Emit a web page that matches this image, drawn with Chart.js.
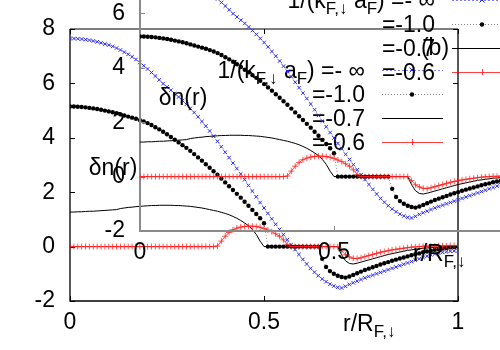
<!DOCTYPE html>
<html><head><meta charset="utf-8">
<script src="https://cdn.jsdelivr.net/npm/chart.js@4"></script>
<style>
html,body{margin:0;padding:0;background:#fff;}
#wrap{position:relative;width:500px;height:350px;overflow:hidden;background:#fff;}
#main{position:absolute;left:0;top:0;}
#inset{position:absolute;left:70px;top:-70px;}
</style></head><body>
<div id="wrap"><canvas id="main" width="500" height="350"></canvas><canvas id="inset" width="500" height="350"></canvas></div>
<script>
// radius r / R_F,down
const rValues = [0,0.01,0.02,0.03,0.04,0.05,0.06,0.07,0.08,0.09,
0.10,0.11,0.12,0.13,0.14,0.15,0.16,0.17,0.18,0.19,
0.20,0.21,0.22,0.23,0.24,0.25,0.26,0.27,0.28,0.29,
0.30,0.31,0.32,0.33,0.34,0.35,0.36,0.37,0.38,0.39,
0.40,0.41,0.42,0.43,0.44,0.45,0.46,0.47,0.48,0.49,
0.50,0.51,0.52,0.53,0.54,0.55,0.56,0.57,0.58,0.59,
0.60,0.61,0.62,0.63,0.64,0.65,0.66,0.67,0.68,0.69,
0.70,0.71,0.72,0.73,0.74,0.75,0.76,0.77,0.78,0.79,
0.80,0.81,0.82,0.83,0.84,0.85,0.86,0.87,0.88,0.89,
0.90,0.91,0.92,0.93,0.94,0.95,0.96,0.97,0.98,0.99,1.00];

// 1/(kF a) = -infinity
const seriesInf = [7.65,7.65,7.64,7.63,7.61,7.59,7.56,7.53,7.49,7.45,
7.41,7.36,7.30,7.23,7.15,7.07,6.98,6.88,6.77,6.65,
6.53,6.40,6.27,6.13,5.99,5.87,5.75,5.63,5.50,5.37,
5.23,5.08,4.93,4.77,4.60,4.43,4.25,4.06,3.87,3.67,
3.47,3.27,3.07,2.87,2.67,2.46,2.25,2.04,1.83,1.62,
1.42,1.22,1.02,0.82,0.63,0.44,0.25,0.07,-0.11,-0.29,
-0.47,-0.64,-0.80,-0.94,-1.07,-1.19,-1.29,-1.38,-1.45,-1.50,
-1.52,-1.46,-1.39,-1.33,-1.27,-1.21,-1.15,-1.10,-1.05,-1.00,
-0.95,-0.90,-0.85,-0.80,-0.75,-0.70,-0.65,-0.60,-0.55,-0.50,
-0.45,-0.40,-0.35,-0.30,-0.27,-0.24,-0.21,-0.19,-0.17,-0.16,-0.15];

// 1/(kF a) = -1.0
const seriesM10 = [5.15,5.15,5.14,5.13,5.12,5.10,5.08,5.06,5.03,5.00,
4.97,4.94,4.90,4.86,4.82,4.78,4.74,4.70,4.65,4.60,
4.54,4.47,4.39,4.31,4.22,4.13,4.03,3.93,3.83,3.73,
3.63,3.52,3.40,3.28,3.16,3.03,2.90,2.77,2.64,2.50,
2.36,2.22,2.08,1.94,1.80,1.65,1.50,1.35,1.20,1.04,
0.86,0,0,0,0,0,0,0,0,0,
0,0,0,0,0,-0.45,-0.75,-0.90,-1.00,-1.07,
-1.12,-1.14,-1.10,-1.04,-0.98,-0.92,-0.86,-0.81,-0.76,-0.71,
-0.66,-0.61,-0.57,-0.52,-0.48,-0.44,-0.40,-0.36,-0.32,-0.28,
-0.25,-0.21,-0.18,-0.15,-0.12,-0.10,-0.07,-0.05,-0.03,-0.02,0];

// 1/(kF a) = -0.7
const seriesM07 = [1.27,1.27,1.28,1.28,1.29,1.30,1.30,1.31,1.32,1.33,
1.34,1.35,1.36,1.40,1.42,1.44,1.45,1.47,1.48,1.49,
1.50,1.51,1.51,1.52,1.52,1.52,1.52,1.51,1.51,1.50,
1.49,1.48,1.46,1.44,1.42,1.39,1.36,1.33,1.30,1.26,
1.22,1.17,1.11,1.04,0.96,0.87,0.77,0.63,0.45,0.20,
0,0,0,0,0,0,0,0,0,0,
0,0,0,0,0,0,0,0,0,0,
-0.30,-0.52,-0.62,-0.64,-0.61,-0.57,-0.53,-0.49,-0.45,-0.41,
-0.37,-0.33,-0.29,-0.26,-0.23,-0.20,-0.17,-0.14,-0.12,-0.10,
-0.08,-0.06,-0.05,-0.04,-0.03,-0.02,-0.01,0,0,0.01,0.01];

// 1/(kF a) = -0.6
const seriesM06 = [0,0,0,0,0,0,0,0,0,0,
0,0,0,0,0,0,0,0,0,0,
0,0,0,0,0,0,0,0,0,0,
0,0,0,0,0,0,0,0,0.02,0.20,
0.38,0.52,0.62,0.68,0.72,0.74,0.75,0.75,0.74,0.71,
0.67,0.61,0.55,0.47,0.38,0.25,0.08,0,0,0,
0,0,0,0,0,0,0,0,0,0,
-0.15,-0.30,-0.38,-0.43,-0.44,-0.41,-0.37,-0.33,-0.29,-0.25,
-0.21,-0.18,-0.15,-0.12,-0.10,-0.08,-0.06,-0.04,-0.02,-0.01,
0,0.01,0.01,0.02,0.02,0.03,0.03,0.03,0.04,0.04,0.04];

const xTicks = [0, 0.5, 1];
const yTicks = [-2, 0, 2, 4, 6, 8];
const legendValues = ['=-1.0', '=-0.7', '=-0.6'];
const legendFirst = [{t:'1/(k'},{t:'F,\u2193',sub:true},{t:' a'},{t:'F',sub:true},{t:') =- \u221E'}];
const xTitle = [{t:'r/R'},{t:'F,\u2193',sub:true}];
const yTitle = '\u03B4n(r)';
const panelLabel = '(b)';

const FONT = "'Liberation Sans', Arial, sans-serif";
const BIG = 23, SMALL = 17;

function pts(arr){ return rValues.map((x,i)=>({x:x, y:arr[i]})); }

function drawRich(ctx, segs, x, base){
  for(const s of segs){
    ctx.font = (s.sub ? SMALL : BIG) + 'px ' + FONT;
    ctx.fillText(s.t, x, base + (s.sub ? 6 : 0));
    x += ctx.measureText(s.t).width;
  }
}
function richWidth(ctx, segs){
  let w = 0;
  for(const s of segs){ ctx.font = (s.sub ? SMALL : BIG) + 'px ' + FONT; w += ctx.measureText(s.t).width; }
  return w;
}

function makeChart(canvas, isInset){
  const axisColor = isInset ? '#8a8a8a' : '#000';
  const deco = {
    id:'deco',
    beforeDraw(chart){
      if(!isInset){
        const c = chart.ctx; c.save(); c.fillStyle = '#fff'; c.fillRect(0,0,chart.width,chart.height); c.restore();
      }
    },
    beforeDatasetsDraw(chart){
      const c = chart.ctx, ca = chart.chartArea, xs = chart.scales.x, ys = chart.scales.y;
      c.save();
      c.lineWidth = isInset ? 2 : 1.3;
      c.strokeStyle = axisColor;
      c.beginPath();
      c.moveTo(ca.left, ca.top); c.lineTo(ca.left, ca.bottom); c.lineTo(ca.right, ca.bottom); c.lineTo(ca.right, ca.top);
      c.stroke();
      c.strokeStyle = isInset ? axisColor : '#555';
      c.beginPath(); c.moveTo(ca.left, ca.top); c.lineTo(ca.right, ca.top); c.stroke();
      c.strokeStyle = axisColor; c.lineWidth = 1;
      c.beginPath();
      for(const v of yTicks){
        const p = Math.round(ys.getPixelForValue(v)) + 0.5;
        c.moveTo(ca.left, p); c.lineTo(ca.left + 5, p);
        c.moveTo(ca.right, p); c.lineTo(ca.right - 5, p);
      }
      for(const v of xTicks){
        const p = Math.round(xs.getPixelForValue(v)) + 0.5;
        c.moveTo(p, ca.bottom); c.lineTo(p, ca.bottom - 5);
        c.moveTo(p, ca.top); c.lineTo(p, ca.top + 5);
      }
      c.stroke();
      c.restore();
    },
    afterDraw(chart){
      const c = chart.ctx, ca = chart.chartArea;
      c.save();
      c.fillStyle = '#000';
      c.textAlign = 'left';
      c.textBaseline = 'alphabetic';
      // legend
      const xr = ca.left + 295;
      const rows = [legendFirst].concat(legendValues.map(t=>[{t:t}]));
      rows.forEach((segs,i)=>{
        const yc = ca.top + 41 + i*24;
        const w = richWidth(c, segs);
        drawRich(c, segs, xr - w, yc + 8);
        const x0 = ca.left + 312, x1 = ca.left + 373, xm = ca.left + 342;
        c.save();
        if(i===0){
          c.strokeStyle = 'rgba(90,90,255,0.8)'; c.lineWidth = 1; c.setLineDash([2,2]);
          c.beginPath(); c.moveTo(x0,yc+0.5); c.lineTo(x1,yc+0.5); c.stroke();
          c.setLineDash([]); c.strokeStyle = '#2020ff';
          c.beginPath(); c.moveTo(xm-2.5,yc-2.5); c.lineTo(xm+2.5,yc+2.5); c.moveTo(xm-2.5,yc+2.5); c.lineTo(xm+2.5,yc-2.5); c.stroke();
        } else if(i===1){
          c.strokeStyle = '#888'; c.lineWidth = 1; c.setLineDash([1,2]);
          c.beginPath(); c.moveTo(x0,yc+0.5); c.lineTo(x1,yc+0.5); c.stroke();
          c.fillStyle = '#000'; c.beginPath(); c.arc(xm, yc+0.5, 2.2, 0, Math.PI*2); c.fill();
        } else if(i===2){
          c.strokeStyle = '#000'; c.lineWidth = 1;
          c.beginPath(); c.moveTo(x0,yc+0.5); c.lineTo(x1,yc+0.5); c.stroke();
        } else {
          c.strokeStyle = 'rgba(255,0,0,0.75)'; c.lineWidth = 1;
          c.beginPath(); c.moveTo(x0,yc+0.5); c.lineTo(x1,yc+0.5); c.moveTo(xm+0.5,yc-3); c.lineTo(xm+0.5,yc+3); c.stroke();
        }
        c.restore();
      });
      // labels
      c.font = BIG + 'px ' + FONT;
      c.textAlign = 'center';
      c.fillText(yTitle, ca.left + 43, ca.top + 146);
      c.fillText(panelLabel, ca.right - 23, ca.top + 26);
      c.textAlign = 'left';
      drawRich(c, xTitle, ca.left + 273, ca.bottom + 30);
      c.restore();
    }
  };
  return new Chart(canvas, {
    type:'line',
    data:{ datasets:[
      { label:'-inf', data:pts(seriesInf), order:3, borderColor:'rgba(90,90,255,0.55)', borderWidth:1, borderDash:[2,2],
        pointStyle:'crossRot', pointRadius:2.5, pointBorderColor:'#2a2aff', pointBackgroundColor:'#2a2aff', pointBorderWidth:1 },
      { label:'-1.0', data:pts(seriesM10), order:2, borderColor:'#888', borderWidth:1, borderDash:[1,2],
        pointStyle:'circle', pointRadius:2.2, pointBackgroundColor:'#000', pointBorderColor:'#000', pointBorderWidth:0 },
      { label:'-0.7', data:pts(seriesM07), order:1, borderColor:'#000', borderWidth:1, pointRadius:0 },
      { label:'-0.6', data:pts(seriesM06), order:0, borderColor:'rgba(255,0,0,0.7)', borderWidth:1,
        pointStyle:'cross', pointRadius:3, pointBorderColor:'rgba(255,30,30,0.75)', pointBorderWidth:1 }
    ]},
    options:{
      responsive:false, animation:false, devicePixelRatio:1,
      layout:{ padding:{ left:0, right:42, top:29, bottom:0 } },
      plugins:{ legend:{display:false}, tooltip:{enabled:false} },
      elements:{ line:{ tension:0 } },
      scales:{
        x:{ type:'linear', min:0, max:1,
            grid:{display:false, drawTicks:false}, border:{display:false},
            ticks:{ stepSize:0.5, padding:8, color:'#000', font:{family:FONT, size:BIG}, maxRotation:0,
                    callback:v=> xTicks.includes(v) ? String(v) : '' },
            afterFit:s=>{ s.height = 49; } },
        y:{ type:'linear', min:-2, max:8,
            grid:{display:false, drawTicks:false}, border:{display:false},
            ticks:{ stepSize:2, padding:15, color:'#000', font:{family:FONT, size:BIG},
                    callback:v=> yTicks.includes(v) ? String(v) : '' },
            afterFit:s=>{ s.width = 70; } }
      }
    },
    plugins:[deco]
  });
}
makeChart(document.getElementById('main'), false);
makeChart(document.getElementById('inset'), true);
</script>
</body></html>
